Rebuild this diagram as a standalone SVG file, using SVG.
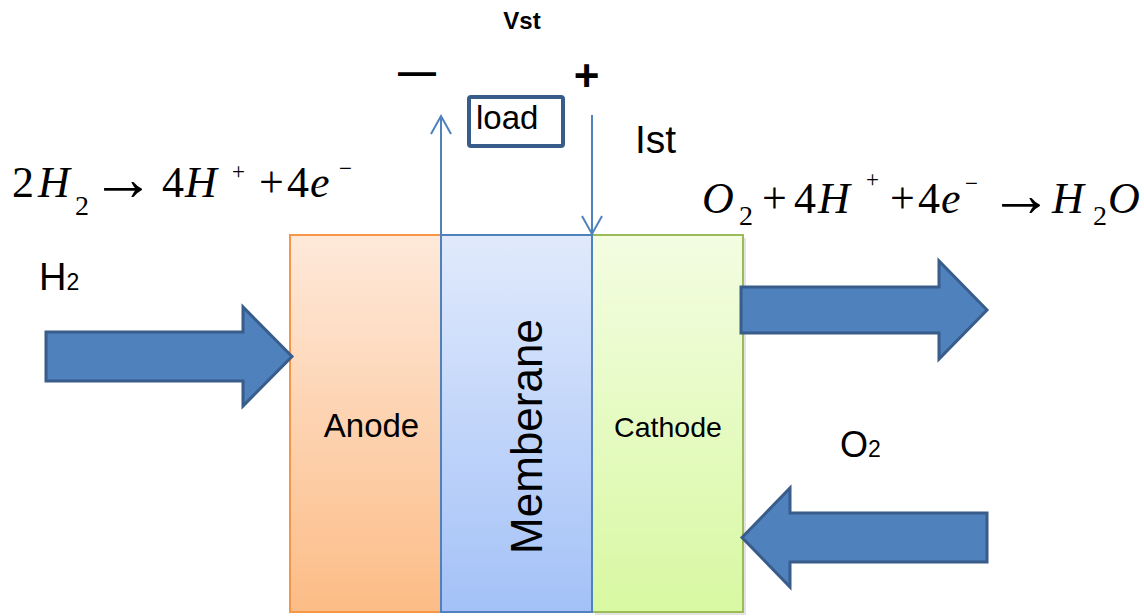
<svg xmlns="http://www.w3.org/2000/svg" width="1144" height="616" viewBox="0 0 1144 616">
  <style>
    .sans { font-family: "Liberation Sans", Arial, sans-serif; fill: #000; }
    .math { font-family: "Liberation Serif", "Times New Roman", serif; font-size: 44px; fill: #000; }
    .it { font-style: italic; }
    .sub { font-size: 28px; }
    .sup { font-size: 23px; }
    .arr { font-size: 64px; }
    .flow { fill: #4f81bd; stroke: #385d8a; stroke-width: 3; stroke-linejoin: miter; }
    .wire { stroke: #4f81bd; stroke-width: 2; fill: none; }
  </style>
  <defs>
    <linearGradient id="gAnode" x1="0" y1="0" x2="0" y2="1">
      <stop offset="0" stop-color="#fee9da"/>
      <stop offset="1" stop-color="#fcbc86"/>
    </linearGradient>
    <linearGradient id="gMem" x1="0" y1="0" x2="0" y2="1">
      <stop offset="0" stop-color="#e1eafc"/>
      <stop offset="1" stop-color="#a3c1f7"/>
    </linearGradient>
    <linearGradient id="gCath" x1="0" y1="0" x2="0" y2="1">
      <stop offset="0" stop-color="#f3fde2"/>
      <stop offset="1" stop-color="#d8f8a2"/>
    </linearGradient>
    <marker id="open" markerUnits="userSpaceOnUse" markerWidth="22" markerHeight="24" viewBox="0 0 22 24" refX="19" refY="12" orient="auto">
      <path d="M 1 2 L 19 12 L 1 22" fill="none" stroke="#4f81bd" stroke-width="2"/>
    </marker>
  </defs>
  <rect width="1144" height="616" fill="#fff"/>

  <g id="anode">
    <rect x="290" y="235" width="151" height="377" fill="url(#gAnode)" stroke="#f79646" stroke-width="2"/>
    <text class="sans" x="371.5" y="437" font-size="33" text-anchor="middle">Anode</text>
  </g>
  <g id="cathode">
    <rect x="595" y="238" width="151" height="377" fill="#c8c8c8" opacity="0.5"/>
    <rect x="592" y="235" width="151" height="377" fill="url(#gCath)" stroke="#9bbb59" stroke-width="2"/>
    <text class="sans" x="668" y="437" font-size="28.5" text-anchor="middle">Cathode</text>
  </g>
  <g id="membrane">
    <rect x="441" y="235" width="151" height="377" fill="url(#gMem)" stroke="#4f81bd" stroke-width="2"/>
    <text class="sans" transform="translate(542,436.5) rotate(-90)" font-size="44" text-anchor="middle">Memberane</text>
  </g>

  <g id="load">
    <rect x="469" y="97" width="94" height="49" rx="2" fill="#fff" stroke="#385d8a" stroke-width="4"/>
    <text class="sans" x="476" y="129" font-size="33">load</text>
  </g>

  <g id="labels">
    <text class="sans" x="522" y="29" font-size="24" font-weight="bold" text-anchor="middle">Vst</text>
    <text class="sans" x="417" y="85" font-size="38" font-weight="bold" text-anchor="middle">—</text>
    <text class="sans" x="586.5" y="91" font-size="44" font-weight="bold" text-anchor="middle">+</text>
    <text class="sans" x="635" y="153" font-size="39">Ist</text>
    <text class="sans" x="39" y="290" font-size="38">H<tspan font-size="23">2</tspan></text>
    <text class="sans" x="840" y="457" font-size="36">O<tspan font-size="23">2</tspan></text>
  </g>

  <g id="eq-anode">
    <text class="math"><tspan x="12" y="197">2</tspan><tspan class="it" x="38" y="197">H</tspan><tspan class="sub" x="75" y="215">2</tspan><tspan class="arr" x="91" y="200">→</tspan><tspan x="162" y="197">4</tspan><tspan class="it" x="185" y="197">H</tspan><tspan class="sup" x="232" y="179">+</tspan><tspan x="259" y="197">+</tspan><tspan x="287" y="197">4</tspan><tspan class="it" x="310" y="197">e</tspan><tspan class="sup" x="339" y="176">−</tspan></text>
  </g>
  <g id="eq-cathode">
    <text class="math"><tspan class="it" x="702" y="213">O</tspan><tspan class="sub" x="739" y="225">2</tspan><tspan x="762" y="213">+</tspan><tspan x="794" y="213">4</tspan><tspan class="it" x="818" y="213">H</tspan><tspan class="sup" x="866" y="187">+</tspan><tspan x="890" y="213">+</tspan><tspan x="918" y="213">4</tspan><tspan class="it" x="941" y="213">e</tspan><tspan class="sup" x="965" y="191">−</tspan><tspan class="arr" x="989" y="216" font-size="60">→</tspan><tspan class="it" x="1052" y="213">H</tspan><tspan class="sub" x="1093" y="225">2</tspan><tspan class="it" x="1108" y="213">O</tspan></text>
  </g>

  <g id="flows">
    <polygon id="h2-in" class="flow" points="46,332 243,332 243,307 292,356.5 243,406 243,381 46,381"/>
    <polygon id="h2o-out" class="flow" points="741,287 939,287 939,261 987,310 939,359 939,333 741,333"/>
    <polygon id="o2-in" class="flow" points="987,513 790,513 790,488 742,537.5 790,587 790,562 987,562"/>
  </g>

  <g id="connectors">
    <line class="wire" x1="441" y1="235" x2="441" y2="116" marker-end="url(#open)"/>
    <line class="wire" x1="592" y1="115" x2="592" y2="234" marker-end="url(#open)"/>
  </g>
</svg>
